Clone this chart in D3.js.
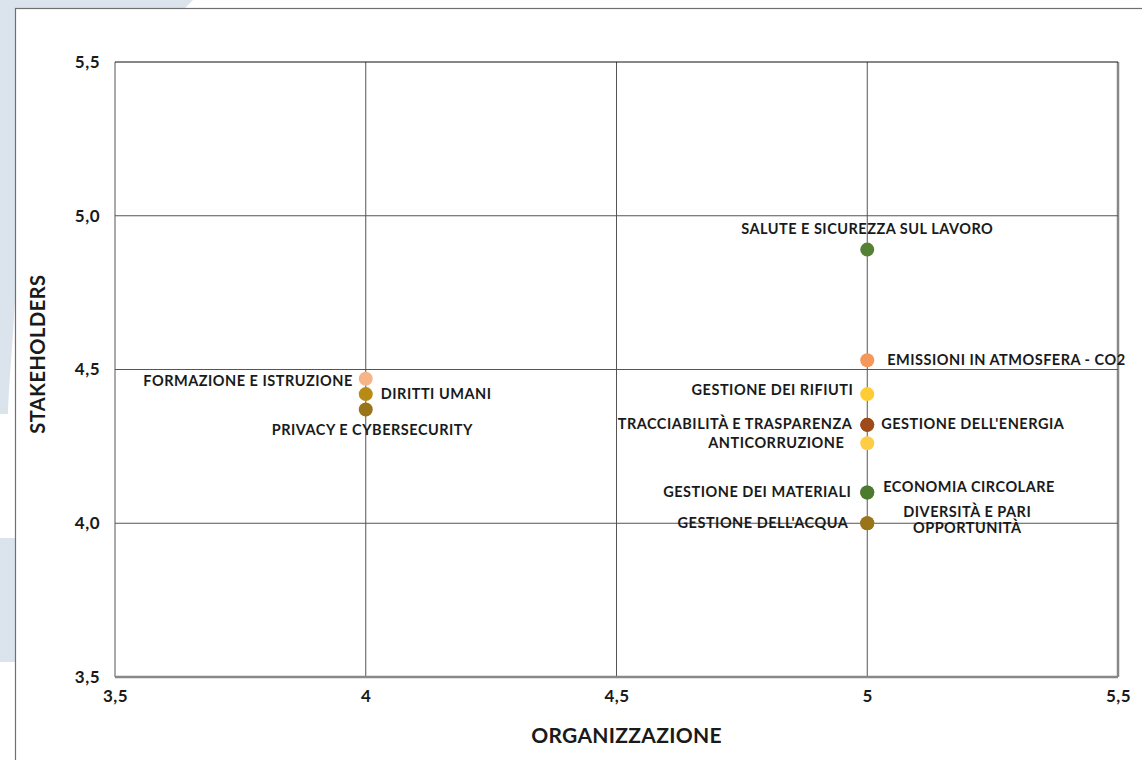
<!DOCTYPE html>
<html lang="en">
<head>
<meta charset="utf-8">
<title>Matrice di materialità</title>
<script src="https://d3js.org/d3.v7.min.js"></script>
<style>
    body { margin: 0; background: #fff; }
    svg text { font-family: Lato, "Open Sans", sans-serif; font-weight: 700; fill: #1a1a1a; }
</style>
</head>
<body>
<div id="chart"></div>
<script>

// data
var topics = ["SALUTE E SICUREZZA SUL LAVORO", "EMISSIONI IN ATMOSFERA - CO2", "GESTIONE DEI RIFIUTI",
    "TRACCIABILITÀ E TRASPARENZA", "GESTIONE DELL'ENERGIA", "ANTICORRUZIONE",
    "GESTIONE DEI MATERIALI", "ECONOMIA CIRCOLARE", "GESTIONE DELL'ACQUA", "DIVERSITÀ E PARI OPPORTUNITÀ",
    "FORMAZIONE E ISTRUZIONE", "DIRITTI UMANI", "PRIVACY E CYBERSECURITY"];
var organizzazione = [5, 5, 5, 5, 5, 5, 5, 5, 5, 5, 4, 4, 4];
var stakeholders = [4.89, 4.53, 4.42, 4.32, 4.32, 4.26, 4.1, 4.1, 4.0, 4.0, 4.47, 4.42, 4.37];
var colors = ["#548235", "#f4975b", "#ffcc33", "#9e4a1b", "#9e4a1b", "#ffcd45",
    "#4e7a30", "#4e7a30", "#9a7418", "#9a7418", "#f6b489", "#b78b14", "#9a7418"];
var xTicks = [3.5, 4, 4.5, 5, 5.5];
var yTicks = [3.5, 4.0, 4.5, 5.0, 5.5];

// label placement: [dx, dy, anchor]
var labelPos = [
    [0, -21, "middle"], [20, 0, "start"], [-14, -4, "end"],
    [-15, -1, "end"], [14, -1, "start"], [-23, 0, "end"],
    [-16, -1, "end"], [16, -6, "start"], [-19, 0, "end"], [100, -3, "middle"],
    [-13, 2, "end"], [15, 0, "start"], [-94, 20, "start"]
];

var width = 1142, height = 760;
var margin = { left: 115, top: 62, right: 1118, bottom: 677 };

var svg = d3.select("#chart").append("svg")
    .attr("width", width)
    .attr("height", height);

// background decoration
svg.append("path")
    .attr("d", "M0,0 L193,0 L184,9 L16,9 L16,280 C14,330 9,380 8,414 L0,414 Z")
    .attr("fill", "#dbe3ed");
svg.append("rect")
    .attr("x", 0).attr("y", 538).attr("width", 16).attr("height", 124)
    .attr("fill", "#dbe3ed");

// panel
svg.append("rect")
    .attr("x", 15.5).attr("y", 8.5)
    .attr("width", 1200).attr("height", 800)
    .attr("fill", "#fff")
    .attr("stroke", "#707070")
    .attr("stroke-width", 1.2);

var x = d3.scaleLinear().domain([3.5, 5.5]).range([margin.left, margin.right]);
var y = d3.scaleLinear().domain([3.5, 5.5]).range([margin.bottom, margin.top]);

var grid = svg.append("g");
grid.selectAll(".vgrid")
    .data(xTicks)
    .enter()
    .append("line")
    .attr("x1", function(d) { return x(d); })
    .attr("x2", function(d) { return x(d); })
    .attr("y1", margin.top)
    .attr("y2", margin.bottom)
    .attr("stroke", function(d) { return d == 5.5 ? "#888" : "#555"; })
    .attr("stroke-width", function(d) { return d == 5.5 ? 2.5 : 1; });

grid.selectAll(".hgrid")
    .data(yTicks)
    .enter()
    .append("line")
    .attr("x1", margin.left)
    .attr("x2", margin.right)
    .attr("y1", function(d) { return y(d); })
    .attr("y2", function(d) { return y(d); })
    .attr("stroke", function(d) { return d == 5.5 ? "#111" : (d == 3.5 ? "#888" : "#555"); })
    .attr("stroke-width", function(d) { return d == 3.5 ? 2.5 : 1; });

// axes
var fmt = function(d) { return String(d).replace(".", ","); };

var xAxis = svg.append("g")
    .attr("transform", "translate(0," + (margin.bottom + 2) + ")")
    .call(d3.axisBottom(x).tickValues(xTicks).tickSize(0).tickPadding(11).tickFormat(fmt));
xAxis.select(".domain").remove();
xAxis.selectAll("text").style("font-size", "17px").style("letter-spacing", "0.5px").attr("fill", "#1a1a1a");

var yAxis = svg.append("g")
    .attr("transform", "translate(" + margin.left + ",0)")
    .call(d3.axisLeft(y).tickValues(yTicks).tickSize(0).tickPadding(15)
        .tickFormat(function(d) { return d3.format(".1f")(d).replace(".", ","); }));
yAxis.select(".domain").remove();
yAxis.selectAll("text").style("font-size", "17px").style("letter-spacing", "0.5px").attr("fill", "#1a1a1a");

svg.append("text")
    .attr("x", x(4.52))
    .attr("y", 743)
    .attr("text-anchor", "middle")
    .style("font-size", "21px")
    .style("letter-spacing", "0.3px")
    .text("ORGANIZZAZIONE");

svg.append("text")
    .attr("transform", "translate(45," + y(4.55) + ") rotate(-90)")
    .attr("text-anchor", "middle")
    .style("font-size", "20px")
    .style("letter-spacing", "0.5px")
    .text("STAKEHOLDERS");

// points
var pts = topics.map(function(t, i) {
    return { name: t, o: organizzazione[i], s: stakeholders[i], c: colors[i], p: labelPos[i] };
});

svg.append("g").selectAll("circle")
    .data(pts)
    .enter()
    .append("circle")
    .attr("cx", function(d) { return x(d.o); })
    .attr("cy", function(d) { return y(d.s); })
    .attr("r", 7)
    .attr("fill", function(d) { return d.c; });

var labels = svg.append("g").selectAll("text")
    .data(pts)
    .enter()
    .append("text")
    .attr("x", function(d) { return x(d.o) + d.p[0]; })
    .attr("y", function(d) { return y(d.s) + d.p[1]; })
    .attr("dy", "0.35em")
    .attr("text-anchor", function(d) { return d.p[2]; })
    .style("font-size", "14.5px")
    .style("letter-spacing", "0.5px");

labels.each(function(d) {
    var t = d3.select(this);
    if (d.name == "DIVERSITÀ E PARI OPPORTUNITÀ") {
        t.append("tspan").attr("x", x(d.o) + d.p[0]).attr("dy", "-0.2em").text("DIVERSITÀ E PARI");
        t.append("tspan").attr("x", x(d.o) + d.p[0]).attr("dy", "1.1em").text("OPPORTUNITÀ");
    } else {
        t.text(d.name);
    }
});

</script>
</body>
</html>
